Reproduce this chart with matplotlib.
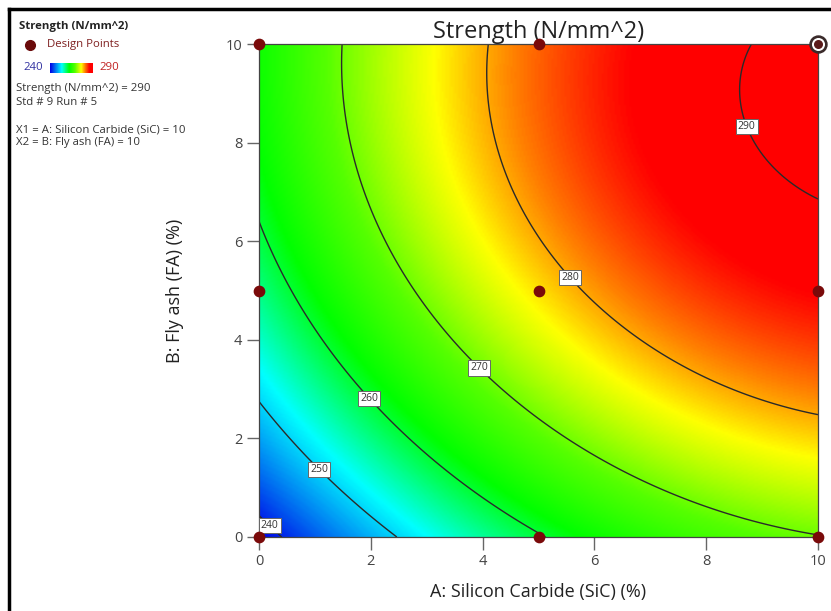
import numpy as np
import matplotlib
matplotlib.use('Agg')
import matplotlib.pyplot as plt
from matplotlib.colors import LinearSegmentedColormap
from matplotlib.lines import Line2D

plt.rcParams['font.family'] = ['Open Sans', 'DejaVu Sans']

# Design points (3x3 factorial) and strength
sic = np.array([0, 5, 10, 0, 5, 10, 0, 5, 10], dtype=float)
fa = np.array([0, 0, 0, 5, 5, 5, 10, 10, 10], dtype=float)
strength = np.array([237.8, 259.6, 269.8, 257.0, 277.8, 287.0, 262.9, 282.7, 290.9])

levels = [240, 250, 260, 270, 280, 290]
label_pos = [(0.25, 0.3), (1.1, 1.4), (2.0, 2.85), (4.0, 3.5), (5.7, 5.4), (8.9, 8.4)]
ticks = [0, 2, 4, 6, 8, 10]

# Quadratic response surface fitted to the design points
X = np.column_stack([np.ones_like(sic), sic, fa, sic * fa, sic ** 2, fa ** 2])
coef, *_ = np.linalg.lstsq(X, strength, rcond=None)

a = np.linspace(0, 10, 300)
b = np.linspace(0, 10, 300)
A, B = np.meshgrid(a, b)
Z = (coef[0] + coef[1] * A + coef[2] * B + coef[3] * A * B
     + coef[4] * A ** 2 + coef[5] * B ** 2)

cmap = LinearSegmentedColormap.from_list(
    'de', [(0.0, '#0000e6'), (0.27, '#00ffff'), (0.45, '#00ff00'),
           (0.58, '#55ff00'), (0.73, '#ffff00'), (0.82, '#ff8000'),
           (0.92, '#ff0000'), (1.0, '#ff0000')])

fig = plt.figure(figsize=(8.31, 6.11), dpi=100)
ax = fig.add_axes([259 / 831, 1 - 537 / 611, 559 / 831, 493 / 611])

ax.imshow(Z, origin='lower', extent=[0, 10, 0, 10], cmap=cmap,
          vmin=Z.min(), vmax=Z.max(), aspect='auto', interpolation='bilinear')
cs = ax.contour(A, B, Z, levels=levels, colors='#2a2a2a', linewidths=1.0)
lbls = ax.clabel(cs, fmt='%d', fontsize=7.5, inline=False, manual=label_pos,
                 colors='#333333')
for t in lbls:
    t.set_rotation(0)
    t.set_bbox(dict(boxstyle='square,pad=0.2', fc='white', ec='#666666', lw=0.7))

ax.scatter(sic, fa, s=55, color='#7a0a0a', zorder=5, clip_on=False)
ax.scatter([10], [10], s=150, color='#3a2a2a', zorder=6, clip_on=False)
ax.scatter([10], [10], s=70, color='white', zorder=7, clip_on=False)
ax.scatter([10], [10], s=30, color='#5a1a1a', zorder=8, clip_on=False)

ax.set_xlim(0, 10)
ax.set_ylim(0, 10)
ax.set_xticks(ticks)
ax.set_yticks(ticks)
ax.tick_params(direction='out', length=9, width=1, color='#666666',
               labelcolor='#444444', labelsize=10.5, pad=3)
for s in ax.spines.values():
    s.set_color('#444444')
    s.set_linewidth(0.9)

ax.set_title('Strength (N/mm^2)', fontsize=17, color='#222222', pad=4)
ax.set_xlabel('A: Silicon Carbide (SiC) (%)', fontsize=13, color='#222222', labelpad=10)
ax.set_ylabel('B: Fly ash (FA) (%)', fontsize=13, color='#222222', labelpad=30)

# Left info panel
def px(x, y):
    return x / 831, 1 - y / 611

fig.text(*px(19, 27), 'Strength (N/mm^2)', fontsize=8.2, weight='bold',
         color='#222222', va='center')
fig.add_artist(Line2D([px(30, 45)[0]], [px(30, 45)[1]], marker='o', ms=7,
                      color='#6a0a0a', transform=fig.transFigure))
fig.text(*px(47, 45), 'Design Points', fontsize=8.2, color='#7f2020', va='center')
fig.text(*px(23, 68), '240', fontsize=8.2, color='#3030a0', va='center')
fig.text(*px(99, 68), '290', fontsize=8.2, color='#c02020', va='center')
cax = fig.add_axes([50 / 831, 1 - 73 / 611, 43 / 831, 10 / 611])
cax.imshow(np.linspace(0, 1, 100)[None, :], cmap=cmap, aspect='auto')
cax.set_xticks([])
cax.set_yticks([])
for s in cax.spines.values():
    s.set_visible(False)

info = ['Strength (N/mm^2) = 290', 'Std # 9 Run # 5', '',
        'X1 = A: Silicon Carbide (SiC) = 10', 'X2 = B: Fly ash (FA) = 10']
for i, line in enumerate(info):
    fig.text(*px(16, 89 + i * 13.5), line, fontsize=8.2, color='#333333', va='center')

# frame lines at top and left
fig.add_artist(Line2D([9 / 831, 1], [1 - 9 / 611, 1 - 9 / 611], color='black',
                      lw=2.5, transform=fig.transFigure))
fig.add_artist(Line2D([9 / 831, 9 / 831], [0, 1 - 9 / 611], color='black',
                      lw=2.5, transform=fig.transFigure))

fig.savefig('out.png', dpi=100)
